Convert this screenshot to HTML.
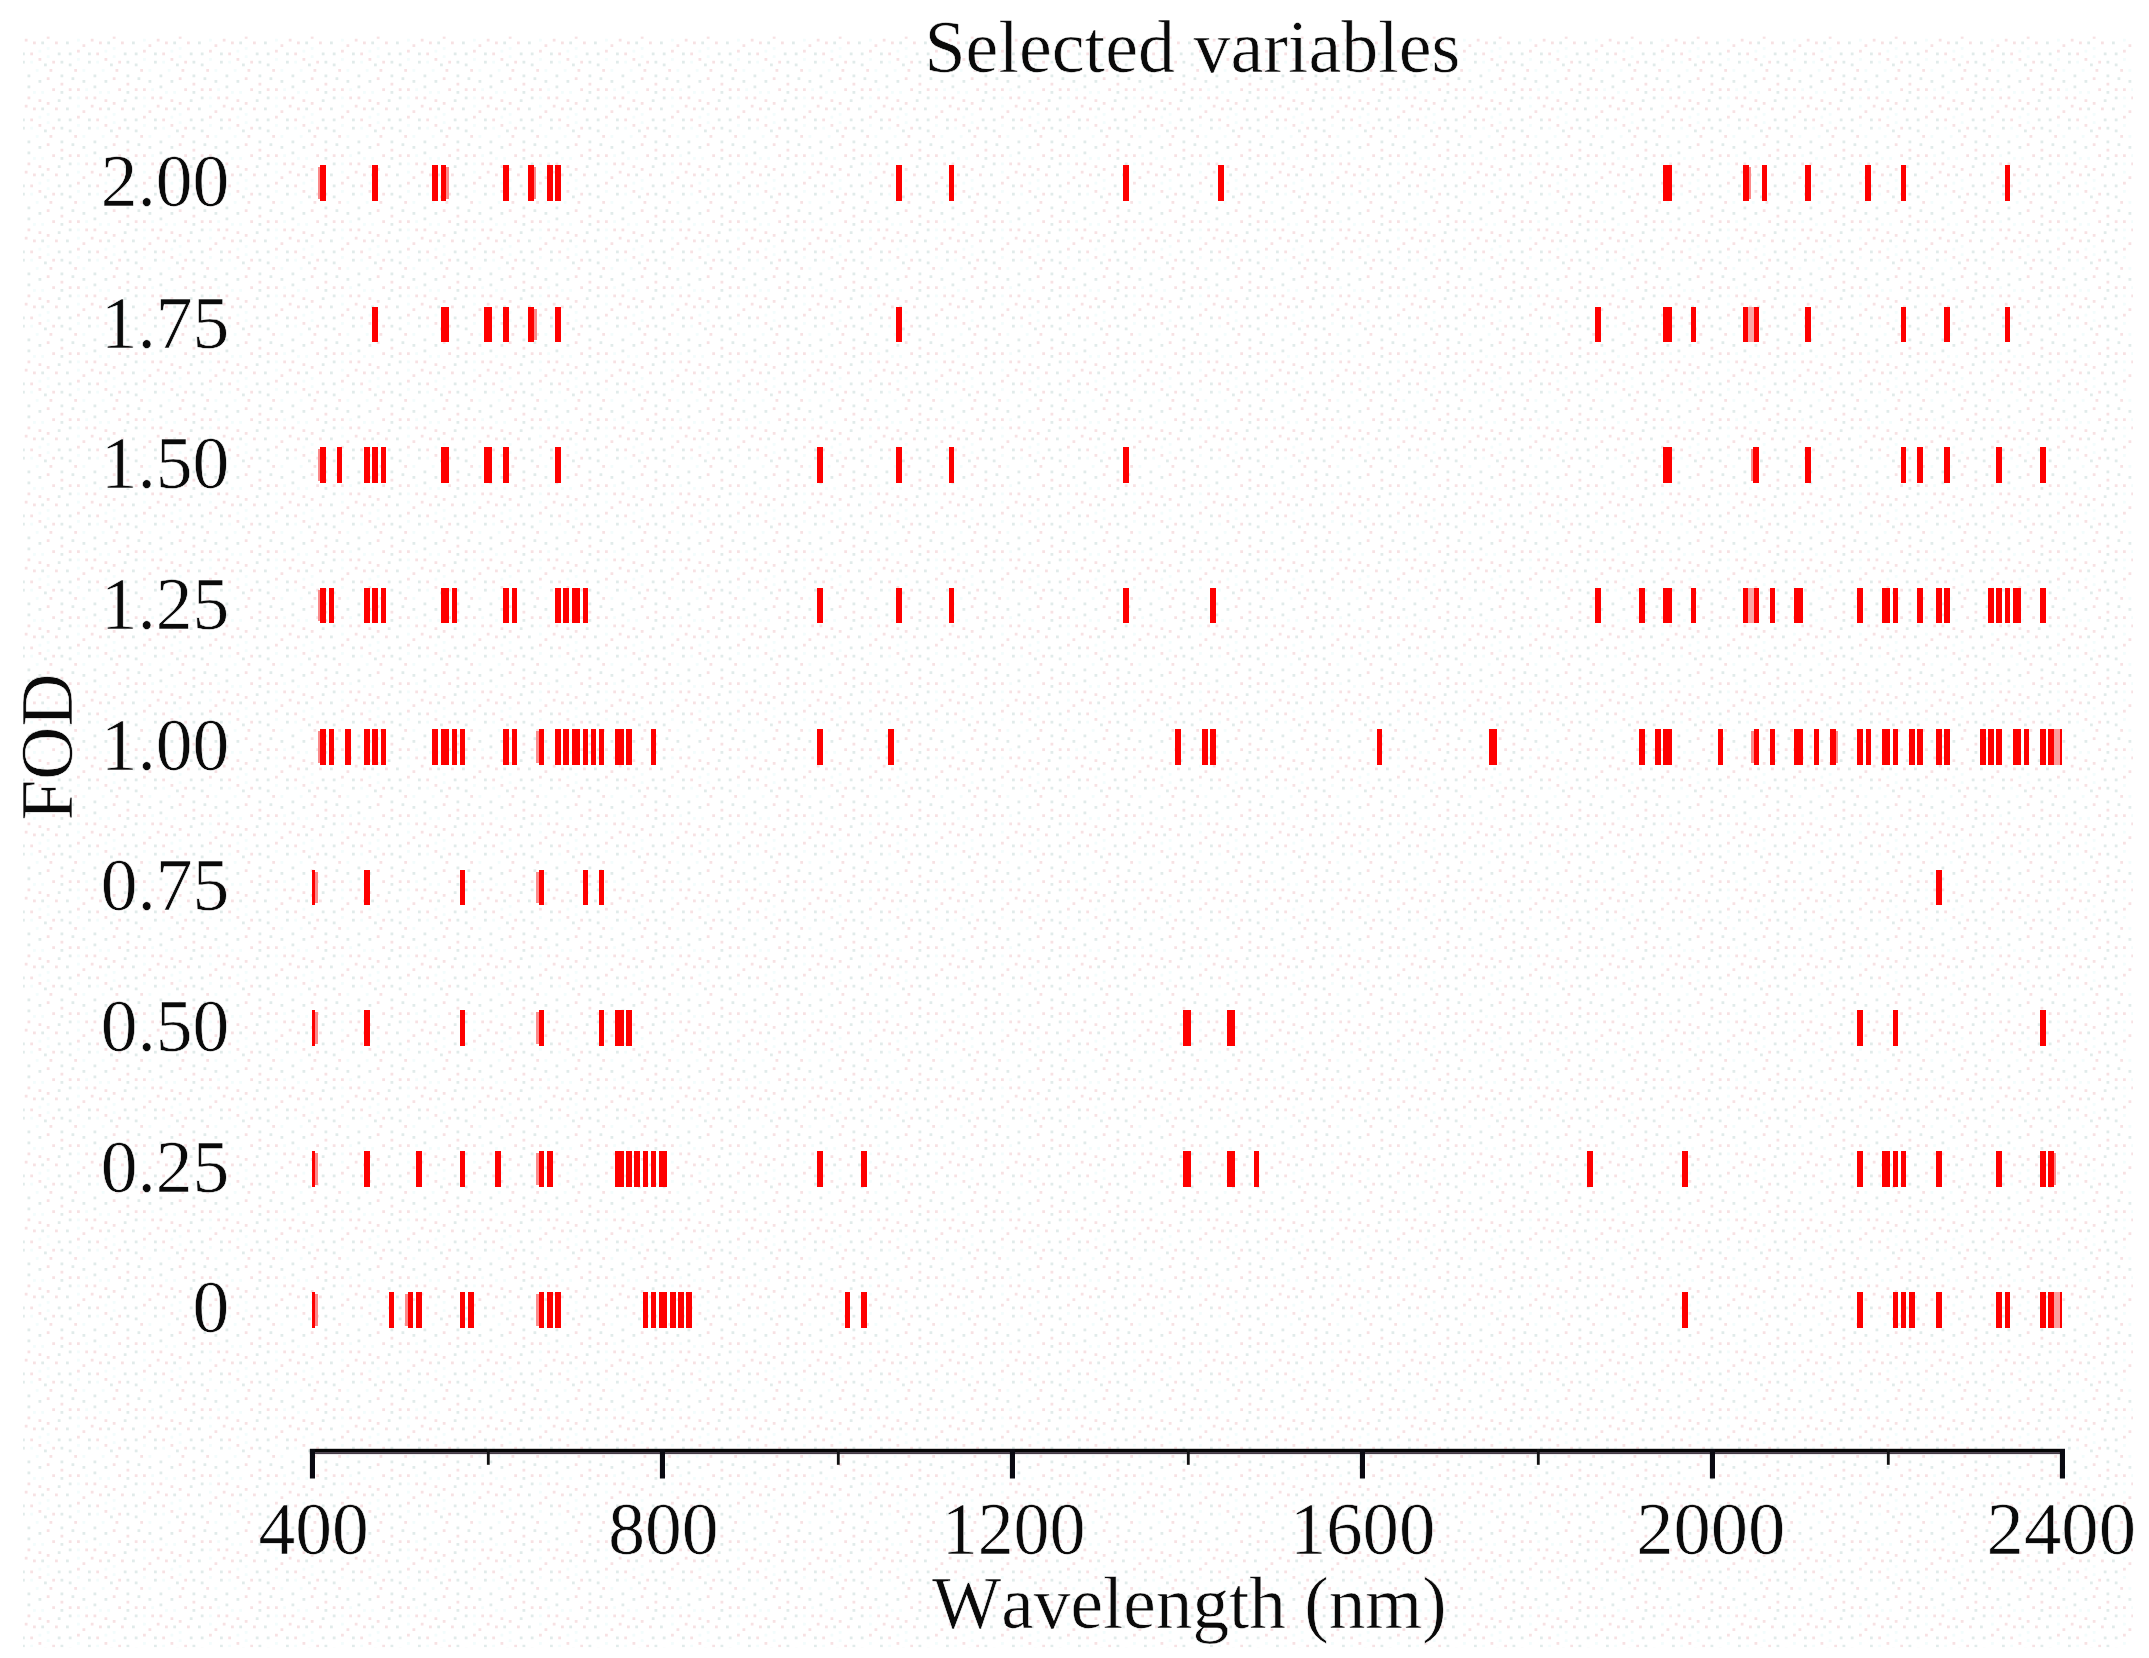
<!DOCTYPE html>
<html lang="en"><head><meta charset="utf-8"><title>Selected variables</title>
<style>
html,body{margin:0;padding:0;background:#fff;}
body{width:2149px;height:1658px;overflow:hidden;}
svg{display:block;}
text{font-family:"Liberation Serif","Times New Roman",serif;font-size:73.5px;fill:#0a0a0a;font-kerning:none;stroke:#fff;stroke-width:0.6px;}
</style></head><body>
<svg width="2149" height="1658" viewBox="0 0 2149 1658">
<defs><pattern id="dz" x="22" y="36" width="66.0" height="66.0" patternUnits="userSpaceOnUse"><rect x="38.50" y="46.75" width="2.8" height="2.8" fill="#f7e1e3"/><rect x="38.50" y="38.50" width="2.8" height="2.8" fill="#e1ebea"/><rect x="16.50" y="13.75" width="2.8" height="2.8" fill="#f3fcfc"/><rect x="55.00" y="52.25" width="2.8" height="2.8" fill="#f7e1e3"/><rect x="38.50" y="24.75" width="2.8" height="2.8" fill="#e1ebea"/><rect x="11.00" y="5.50" width="2.8" height="2.8" fill="#f7e1e3"/><rect x="46.75" y="60.50" width="2.8" height="2.8" fill="#e1ebea"/><rect x="55.00" y="2.75" width="2.8" height="2.8" fill="#f3fcfc"/><rect x="52.25" y="33.00" width="2.8" height="2.8" fill="#f7e1e3"/><rect x="38.50" y="55.00" width="2.8" height="2.8" fill="#e1ebea"/><rect x="63.25" y="52.25" width="2.8" height="2.8" fill="#f3fcfc"/><rect x="55.00" y="13.75" width="2.8" height="2.8" fill="#f7e1e3"/><rect x="44.00" y="5.50" width="2.8" height="2.8" fill="#e1ebea"/><rect x="2.75" y="2.75" width="2.8" height="2.8" fill="#f7e1e3"/><rect x="16.50" y="44.00" width="2.8" height="2.8" fill="#e1ebea"/><rect x="19.25" y="55.00" width="2.8" height="2.8" fill="#f3fcfc"/><rect x="24.75" y="41.25" width="2.8" height="2.8" fill="#f7e1e3"/><rect x="5.50" y="38.50" width="2.8" height="2.8" fill="#e1ebea"/><rect x="55.00" y="22.00" width="2.8" height="2.8" fill="#f3fcfc"/><rect x="5.50" y="60.50" width="2.8" height="2.8" fill="#f7e1e3"/><rect x="22.00" y="27.50" width="2.8" height="2.8" fill="#e1ebea"/><rect x="24.75" y="0.00" width="2.8" height="2.8" fill="#f7e1e3"/><rect x="5.50" y="49.50" width="2.8" height="2.8" fill="#e1ebea"/><rect x="8.25" y="24.75" width="2.8" height="2.8" fill="#f3fcfc"/><rect x="33.00" y="5.50" width="2.8" height="2.8" fill="#f7e1e3"/><rect x="0.00" y="16.50" width="2.8" height="2.8" fill="#e1ebea"/><rect x="60.50" y="33.00" width="2.8" height="2.8" fill="#f3fcfc"/><rect x="60.50" y="8.25" width="2.8" height="2.8" fill="#f7e1e3"/><rect x="46.75" y="16.50" width="2.8" height="2.8" fill="#e1ebea"/><rect x="16.50" y="63.25" width="2.8" height="2.8" fill="#f7e1e3"/><rect x="35.75" y="16.50" width="2.8" height="2.8" fill="#e1ebea"/><rect x="13.75" y="33.00" width="2.8" height="2.8" fill="#f3fcfc"/><rect x="30.25" y="52.25" width="2.8" height="2.8" fill="#f7e1e3"/><rect x="49.50" y="41.25" width="2.8" height="2.8" fill="#e1ebea"/><rect x="24.75" y="19.25" width="2.8" height="2.8" fill="#f3fcfc"/><rect x="63.25" y="60.50" width="2.8" height="2.8" fill="#f7e1e3"/><rect x="35.75" y="63.25" width="2.8" height="2.8" fill="#e1ebea"/><rect x="27.50" y="33.00" width="2.8" height="2.8" fill="#f7e1e3"/><rect x="0.00" y="24.75" width="2.8" height="2.8" fill="#e1ebea"/><rect x="24.75" y="11.00" width="2.8" height="2.8" fill="#f3fcfc"/><rect x="30.25" y="24.75" width="2.8" height="2.8" fill="#f7e1e3"/><rect x="60.50" y="44.00" width="2.8" height="2.8" fill="#e1ebea"/><rect x="55.00" y="60.50" width="2.8" height="2.8" fill="#f3fcfc"/><rect x="8.25" y="16.50" width="2.8" height="2.8" fill="#f7e1e3"/><rect x="46.75" y="27.50" width="2.8" height="2.8" fill="#e1ebea"/><rect x="46.75" y="52.25" width="2.8" height="2.8" fill="#f7e1e3"/><rect x="19.25" y="5.50" width="2.8" height="2.8" fill="#e1ebea"/><rect x="11.00" y="55.00" width="2.8" height="2.8" fill="#f3fcfc"/><rect x="16.50" y="22.00" width="2.8" height="2.8" fill="#f7e1e3"/></pattern></defs>
<rect x="0" y="0" width="2149" height="1658" fill="#ffffff"/>
<rect x="23" y="36.6" width="2110" height="1610.6" fill="url(#dz)"/>
<g id="bars" shape-rendering="crispEdges">
<g><rect x="317.8" y="166.9" width="2.8" height="31.6" fill="#fb8a8a"/><rect x="320.4" y="164.9" width="5.6" height="35.6" fill="#fe0000"/><rect x="372.4" y="164.9" width="5.6" height="35.6" fill="#fe0000"/><rect x="432.3" y="164.9" width="5.6" height="35.6" fill="#fe0000"/><rect x="446.1" y="166.9" width="2.8" height="31.6" fill="#fb8a8a"/><rect x="440.7" y="164.9" width="5.6" height="35.6" fill="#fe0000"/><rect x="503.3" y="164.9" width="5.6" height="35.6" fill="#fe0000"/><rect x="533.3" y="166.9" width="2.8" height="31.6" fill="#fb8a8a"/><rect x="527.9" y="164.9" width="5.6" height="35.6" fill="#fe0000"/><rect x="547.0" y="164.9" width="5.6" height="35.6" fill="#fe0000"/><rect x="555.4" y="164.9" width="5.6" height="35.6" fill="#fe0000"/><rect x="896.2" y="164.9" width="5.6" height="35.6" fill="#fe0000"/><rect x="948.5" y="164.9" width="5.6" height="35.6" fill="#fe0000"/><rect x="1123.0" y="164.9" width="5.6" height="35.6" fill="#fe0000"/><rect x="1218.2" y="164.9" width="5.6" height="35.6" fill="#fe0000"/><rect x="1663.4" y="164.9" width="8.4" height="35.6" fill="#fe0000"/><rect x="1748.3" y="166.9" width="2.8" height="31.6" fill="#fb8a8a"/><rect x="1742.9" y="164.9" width="5.6" height="35.6" fill="#fe0000"/><rect x="1761.5" y="164.9" width="5.6" height="35.6" fill="#fe0000"/><rect x="1805.2" y="164.9" width="5.6" height="35.6" fill="#fe0000"/><rect x="1865.3" y="164.9" width="5.6" height="35.6" fill="#fe0000"/><rect x="1900.7" y="164.9" width="5.6" height="35.6" fill="#fe0000"/><rect x="2004.5" y="164.9" width="5.6" height="35.6" fill="#fe0000"/></g>
<g><rect x="372.4" y="306.6" width="5.6" height="35.6" fill="#fe0000"/><rect x="440.6" y="306.6" width="8.4" height="35.6" fill="#fe0000"/><rect x="484.0" y="306.6" width="8.4" height="35.6" fill="#fe0000"/><rect x="503.3" y="306.6" width="5.6" height="35.6" fill="#fe0000"/><rect x="533.8" y="308.6" width="2.8" height="31.6" fill="#fb8a8a"/><rect x="528.4" y="306.6" width="5.6" height="35.6" fill="#fe0000"/><rect x="555.2" y="306.6" width="5.6" height="35.6" fill="#fe0000"/><rect x="896.2" y="306.6" width="5.6" height="35.6" fill="#fe0000"/><rect x="1595.2" y="306.6" width="5.6" height="35.6" fill="#fe0000"/><rect x="1663.4" y="306.6" width="8.4" height="35.6" fill="#fe0000"/><rect x="1690.7" y="306.6" width="5.6" height="35.6" fill="#fe0000"/><rect x="1742.7" y="306.6" width="5.6" height="35.6" fill="#fe0000"/><rect x="1748.1" y="306.6" width="5.6" height="35.6" fill="#fba3a3"/><rect x="1753.5" y="306.6" width="5.6" height="35.6" fill="#fe0000"/><rect x="1805.2" y="306.6" width="5.6" height="35.6" fill="#fe0000"/><rect x="1900.8" y="306.6" width="5.6" height="35.6" fill="#fe0000"/><rect x="1944.4" y="306.6" width="5.6" height="35.6" fill="#fe0000"/><rect x="2004.5" y="306.6" width="5.6" height="35.6" fill="#fe0000"/></g>
<g><rect x="317.8" y="449.0" width="2.8" height="31.6" fill="#fb8a8a"/><rect x="320.4" y="447.0" width="5.6" height="35.6" fill="#fe0000"/><rect x="336.8" y="447.0" width="5.6" height="35.6" fill="#fe0000"/><rect x="364.1" y="447.0" width="5.6" height="35.6" fill="#fe0000"/><rect x="372.4" y="447.0" width="5.6" height="35.6" fill="#fe0000"/><rect x="380.5" y="447.0" width="5.6" height="35.6" fill="#fe0000"/><rect x="440.6" y="447.0" width="8.4" height="35.6" fill="#fe0000"/><rect x="484.0" y="447.0" width="8.4" height="35.6" fill="#fe0000"/><rect x="503.3" y="447.0" width="5.6" height="35.6" fill="#fe0000"/><rect x="555.2" y="447.0" width="5.6" height="35.6" fill="#fe0000"/><rect x="817.1" y="447.0" width="5.6" height="35.6" fill="#fe0000"/><rect x="896.2" y="447.0" width="5.6" height="35.6" fill="#fe0000"/><rect x="948.5" y="447.0" width="5.6" height="35.6" fill="#fe0000"/><rect x="1123.0" y="447.0" width="5.6" height="35.6" fill="#fe0000"/><rect x="1663.4" y="447.0" width="8.4" height="35.6" fill="#fe0000"/><rect x="1750.6" y="449.0" width="2.8" height="31.6" fill="#fb8a8a"/><rect x="1753.2" y="447.0" width="5.6" height="35.6" fill="#fe0000"/><rect x="1805.2" y="447.0" width="5.6" height="35.6" fill="#fe0000"/><rect x="1900.8" y="447.0" width="5.6" height="35.6" fill="#fe0000"/><rect x="1917.3" y="447.0" width="5.6" height="35.6" fill="#fe0000"/><rect x="1944.4" y="447.0" width="5.6" height="35.6" fill="#fe0000"/><rect x="1996.4" y="447.0" width="5.6" height="35.6" fill="#fe0000"/><rect x="2040.2" y="447.0" width="5.6" height="35.6" fill="#fe0000"/></g>
<g><rect x="317.8" y="589.6" width="2.8" height="31.6" fill="#fb8a8a"/><rect x="320.4" y="587.6" width="5.6" height="35.6" fill="#fe0000"/><rect x="328.7" y="587.6" width="5.6" height="35.6" fill="#fe0000"/><rect x="364.1" y="587.6" width="5.6" height="35.6" fill="#fe0000"/><rect x="372.4" y="587.6" width="5.6" height="35.6" fill="#fe0000"/><rect x="380.5" y="587.6" width="5.6" height="35.6" fill="#fe0000"/><rect x="440.6" y="587.6" width="8.4" height="35.6" fill="#fe0000"/><rect x="451.5" y="587.6" width="5.6" height="35.6" fill="#fe0000"/><rect x="503.3" y="587.6" width="5.6" height="35.6" fill="#fe0000"/><rect x="511.6" y="587.6" width="5.6" height="35.6" fill="#fe0000"/><rect x="555.2" y="587.6" width="5.6" height="35.6" fill="#fe0000"/><rect x="563.3" y="587.6" width="5.6" height="35.6" fill="#fe0000"/><rect x="571.7" y="587.6" width="8.4" height="35.6" fill="#fe0000"/><rect x="582.6" y="587.6" width="5.6" height="35.6" fill="#fe0000"/><rect x="817.1" y="587.6" width="5.6" height="35.6" fill="#fe0000"/><rect x="896.2" y="587.6" width="5.6" height="35.6" fill="#fe0000"/><rect x="948.5" y="587.6" width="5.6" height="35.6" fill="#fe0000"/><rect x="1123.0" y="587.6" width="5.6" height="35.6" fill="#fe0000"/><rect x="1210.1" y="587.6" width="5.6" height="35.6" fill="#fe0000"/><rect x="1595.2" y="587.6" width="5.6" height="35.6" fill="#fe0000"/><rect x="1638.9" y="587.6" width="5.6" height="35.6" fill="#fe0000"/><rect x="1663.4" y="587.6" width="8.4" height="35.6" fill="#fe0000"/><rect x="1690.7" y="587.6" width="5.6" height="35.6" fill="#fe0000"/><rect x="1742.7" y="587.6" width="5.6" height="35.6" fill="#fe0000"/><rect x="1748.1" y="587.6" width="5.6" height="35.6" fill="#fba3a3"/><rect x="1753.5" y="587.6" width="5.6" height="35.6" fill="#fe0000"/><rect x="1769.8" y="587.6" width="5.6" height="35.6" fill="#fe0000"/><rect x="1794.4" y="587.6" width="8.4" height="35.6" fill="#fe0000"/><rect x="1857.3" y="587.6" width="5.6" height="35.6" fill="#fe0000"/><rect x="1881.9" y="587.6" width="8.4" height="35.6" fill="#fe0000"/><rect x="1892.7" y="587.6" width="5.6" height="35.6" fill="#fe0000"/><rect x="1917.3" y="587.6" width="5.6" height="35.6" fill="#fe0000"/><rect x="1936.4" y="587.6" width="5.6" height="35.6" fill="#fe0000"/><rect x="1944.4" y="587.6" width="5.6" height="35.6" fill="#fe0000"/><rect x="1988.4" y="587.6" width="5.6" height="35.6" fill="#fe0000"/><rect x="1996.4" y="587.6" width="5.6" height="35.6" fill="#fe0000"/><rect x="2004.7" y="587.6" width="5.6" height="35.6" fill="#fe0000"/><rect x="2012.8" y="587.6" width="8.4" height="35.6" fill="#fe0000"/><rect x="2040.2" y="587.6" width="5.6" height="35.6" fill="#fe0000"/></g>
<g><rect x="317.8" y="731.0" width="2.8" height="31.6" fill="#fb8a8a"/><rect x="320.4" y="729.0" width="5.6" height="35.6" fill="#fe0000"/><rect x="328.7" y="729.0" width="5.6" height="35.6" fill="#fe0000"/><rect x="345.0" y="729.0" width="5.6" height="35.6" fill="#fe0000"/><rect x="364.1" y="729.0" width="5.6" height="35.6" fill="#fe0000"/><rect x="372.4" y="729.0" width="5.6" height="35.6" fill="#fe0000"/><rect x="380.5" y="729.0" width="5.6" height="35.6" fill="#fe0000"/><rect x="432.3" y="729.0" width="5.6" height="35.6" fill="#fe0000"/><rect x="440.6" y="729.0" width="8.4" height="35.6" fill="#fe0000"/><rect x="451.5" y="729.0" width="5.6" height="35.6" fill="#fe0000"/><rect x="459.7" y="729.0" width="5.6" height="35.6" fill="#fe0000"/><rect x="503.3" y="729.0" width="5.6" height="35.6" fill="#fe0000"/><rect x="511.6" y="729.0" width="5.6" height="35.6" fill="#fe0000"/><rect x="536.1" y="731.0" width="2.8" height="31.6" fill="#fb8a8a"/><rect x="538.7" y="729.0" width="5.6" height="35.6" fill="#fe0000"/><rect x="555.2" y="729.0" width="5.6" height="35.6" fill="#fe0000"/><rect x="563.3" y="729.0" width="5.6" height="35.6" fill="#fe0000"/><rect x="571.7" y="729.0" width="8.4" height="35.6" fill="#fe0000"/><rect x="582.6" y="729.0" width="5.6" height="35.6" fill="#fe0000"/><rect x="590.7" y="729.0" width="5.6" height="35.6" fill="#fe0000"/><rect x="598.8" y="729.0" width="5.6" height="35.6" fill="#fe0000"/><rect x="615.2" y="729.0" width="8.4" height="35.6" fill="#fe0000"/><rect x="626.0" y="729.0" width="5.6" height="35.6" fill="#fe0000"/><rect x="650.6" y="729.0" width="5.6" height="35.6" fill="#fe0000"/><rect x="817.1" y="729.0" width="5.6" height="35.6" fill="#fe0000"/><rect x="888.2" y="729.0" width="5.6" height="35.6" fill="#fe0000"/><rect x="1175.1" y="729.0" width="5.6" height="35.6" fill="#fe0000"/><rect x="1202.1" y="729.0" width="5.6" height="35.6" fill="#fe0000"/><rect x="1210.3" y="729.0" width="5.6" height="35.6" fill="#fe0000"/><rect x="1376.6" y="729.0" width="5.6" height="35.6" fill="#fe0000"/><rect x="1488.8" y="729.0" width="8.4" height="35.6" fill="#fe0000"/><rect x="1638.9" y="729.0" width="5.6" height="35.6" fill="#fe0000"/><rect x="1655.2" y="729.0" width="5.6" height="35.6" fill="#fe0000"/><rect x="1663.4" y="729.0" width="8.4" height="35.6" fill="#fe0000"/><rect x="1717.8" y="729.0" width="5.6" height="35.6" fill="#fe0000"/><rect x="1750.9" y="731.0" width="2.8" height="31.6" fill="#fb8a8a"/><rect x="1753.5" y="729.0" width="5.6" height="35.6" fill="#fe0000"/><rect x="1769.8" y="729.0" width="5.6" height="35.6" fill="#fe0000"/><rect x="1794.4" y="729.0" width="8.4" height="35.6" fill="#fe0000"/><rect x="1813.5" y="729.0" width="5.6" height="35.6" fill="#fe0000"/><rect x="1835.5" y="731.0" width="2.8" height="31.6" fill="#fb8a8a"/><rect x="1830.1" y="729.0" width="5.6" height="35.6" fill="#fe0000"/><rect x="1857.3" y="729.0" width="5.6" height="35.6" fill="#fe0000"/><rect x="1865.6" y="729.0" width="5.6" height="35.6" fill="#fe0000"/><rect x="1881.9" y="729.0" width="8.4" height="35.6" fill="#fe0000"/><rect x="1892.7" y="729.0" width="5.6" height="35.6" fill="#fe0000"/><rect x="1909.0" y="729.0" width="5.6" height="35.6" fill="#fe0000"/><rect x="1917.3" y="729.0" width="5.6" height="35.6" fill="#fe0000"/><rect x="1936.4" y="729.0" width="5.6" height="35.6" fill="#fe0000"/><rect x="1944.4" y="729.0" width="5.6" height="35.6" fill="#fe0000"/><rect x="1980.1" y="729.0" width="5.6" height="35.6" fill="#fe0000"/><rect x="1988.4" y="729.0" width="5.6" height="35.6" fill="#fe0000"/><rect x="1996.4" y="729.0" width="5.6" height="35.6" fill="#fe0000"/><rect x="2012.8" y="729.0" width="8.4" height="35.6" fill="#fe0000"/><rect x="2023.6" y="729.0" width="5.6" height="35.6" fill="#fe0000"/><rect x="2040.2" y="729.0" width="5.6" height="35.6" fill="#fe0000"/><rect x="2048.2" y="729.0" width="5.6" height="35.6" fill="#fe0000"/><rect x="2053.8" y="729.0" width="6.4" height="35.6" fill="#fc9c9c"/><rect x="2060.1" y="729.0" width="2.0" height="35.6" fill="#fe0000"/></g>
<g><rect x="312.1" y="869.8" width="3.2" height="35.6" fill="#fe0000"/><rect x="315.2" y="871.8" width="2.6" height="31.6" fill="#fb8a8a"/><rect x="364.1" y="869.8" width="5.6" height="35.6" fill="#fe0000"/><rect x="459.7" y="869.8" width="5.6" height="35.6" fill="#fe0000"/><rect x="536.1" y="871.8" width="2.8" height="31.6" fill="#fb8a8a"/><rect x="538.7" y="869.8" width="5.6" height="35.6" fill="#fe0000"/><rect x="582.6" y="869.8" width="5.6" height="35.6" fill="#fe0000"/><rect x="598.8" y="869.8" width="5.6" height="35.6" fill="#fe0000"/><rect x="1936.4" y="869.8" width="5.6" height="35.6" fill="#fe0000"/></g>
<g><rect x="312.1" y="1010.2" width="3.2" height="35.6" fill="#fe0000"/><rect x="315.2" y="1012.2" width="2.6" height="31.6" fill="#fb8a8a"/><rect x="364.1" y="1010.2" width="5.6" height="35.6" fill="#fe0000"/><rect x="459.7" y="1010.2" width="5.6" height="35.6" fill="#fe0000"/><rect x="536.1" y="1012.2" width="2.8" height="31.6" fill="#fb8a8a"/><rect x="538.7" y="1010.2" width="5.6" height="35.6" fill="#fe0000"/><rect x="598.8" y="1010.2" width="5.6" height="35.6" fill="#fe0000"/><rect x="615.2" y="1010.2" width="8.4" height="35.6" fill="#fe0000"/><rect x="626.0" y="1010.2" width="5.6" height="35.6" fill="#fe0000"/><rect x="1182.8" y="1010.2" width="8.4" height="35.6" fill="#fe0000"/><rect x="1226.6" y="1010.2" width="8.4" height="35.6" fill="#fe0000"/><rect x="1857.3" y="1010.2" width="5.6" height="35.6" fill="#fe0000"/><rect x="1892.7" y="1010.2" width="5.6" height="35.6" fill="#fe0000"/><rect x="2040.2" y="1010.2" width="5.6" height="35.6" fill="#fe0000"/></g>
<g><rect x="312.1" y="1151.0" width="3.2" height="35.6" fill="#fe0000"/><rect x="315.2" y="1153.0" width="2.6" height="31.6" fill="#fb8a8a"/><rect x="364.1" y="1151.0" width="5.6" height="35.6" fill="#fe0000"/><rect x="416.0" y="1151.0" width="5.6" height="35.6" fill="#fe0000"/><rect x="459.7" y="1151.0" width="5.6" height="35.6" fill="#fe0000"/><rect x="495.2" y="1151.0" width="5.6" height="35.6" fill="#fe0000"/><rect x="536.1" y="1153.0" width="2.8" height="31.6" fill="#fb8a8a"/><rect x="538.7" y="1151.0" width="5.6" height="35.6" fill="#fe0000"/><rect x="547.0" y="1151.0" width="5.6" height="35.6" fill="#fe0000"/><rect x="615.2" y="1151.0" width="8.4" height="35.6" fill="#fe0000"/><rect x="626.0" y="1151.0" width="5.6" height="35.6" fill="#fe0000"/><rect x="634.2" y="1151.0" width="5.6" height="35.6" fill="#fe0000"/><rect x="642.5" y="1151.0" width="5.6" height="35.6" fill="#fe0000"/><rect x="650.6" y="1151.0" width="5.6" height="35.6" fill="#fe0000"/><rect x="658.7" y="1151.0" width="8.4" height="35.6" fill="#fe0000"/><rect x="817.1" y="1151.0" width="5.6" height="35.6" fill="#fe0000"/><rect x="861.0" y="1151.0" width="5.6" height="35.6" fill="#fe0000"/><rect x="1182.8" y="1151.0" width="8.4" height="35.6" fill="#fe0000"/><rect x="1226.6" y="1151.0" width="8.4" height="35.6" fill="#fe0000"/><rect x="1253.8" y="1151.0" width="5.6" height="35.6" fill="#fe0000"/><rect x="1586.9" y="1151.0" width="5.6" height="35.6" fill="#fe0000"/><rect x="1682.4" y="1151.0" width="5.6" height="35.6" fill="#fe0000"/><rect x="1857.3" y="1151.0" width="5.6" height="35.6" fill="#fe0000"/><rect x="1881.9" y="1151.0" width="8.4" height="35.6" fill="#fe0000"/><rect x="1892.7" y="1151.0" width="5.6" height="35.6" fill="#fe0000"/><rect x="1900.8" y="1151.0" width="5.6" height="35.6" fill="#fe0000"/><rect x="1936.4" y="1151.0" width="5.6" height="35.6" fill="#fe0000"/><rect x="1996.4" y="1151.0" width="5.6" height="35.6" fill="#fe0000"/><rect x="2040.2" y="1151.0" width="5.6" height="35.6" fill="#fe0000"/><rect x="2053.6" y="1153.0" width="2.8" height="31.6" fill="#fb8a8a"/><rect x="2048.2" y="1151.0" width="5.6" height="35.6" fill="#fe0000"/></g>
<g><rect x="312.1" y="1291.9" width="3.2" height="35.6" fill="#fe0000"/><rect x="315.2" y="1293.9" width="2.6" height="31.6" fill="#fb8a8a"/><rect x="388.7" y="1291.9" width="5.6" height="35.6" fill="#fe0000"/><rect x="405.2" y="1293.9" width="2.8" height="31.6" fill="#fb8a8a"/><rect x="407.8" y="1291.9" width="5.6" height="35.6" fill="#fe0000"/><rect x="416.0" y="1291.9" width="5.6" height="35.6" fill="#fe0000"/><rect x="459.7" y="1291.9" width="5.6" height="35.6" fill="#fe0000"/><rect x="467.9" y="1291.9" width="5.6" height="35.6" fill="#fe0000"/><rect x="536.1" y="1293.9" width="2.8" height="31.6" fill="#fb8a8a"/><rect x="538.7" y="1291.9" width="5.6" height="35.6" fill="#fe0000"/><rect x="547.0" y="1291.9" width="5.6" height="35.6" fill="#fe0000"/><rect x="555.2" y="1291.9" width="5.6" height="35.6" fill="#fe0000"/><rect x="642.5" y="1291.9" width="5.6" height="35.6" fill="#fe0000"/><rect x="650.6" y="1291.9" width="5.6" height="35.6" fill="#fe0000"/><rect x="658.7" y="1291.9" width="8.4" height="35.6" fill="#fe0000"/><rect x="669.9" y="1291.9" width="5.6" height="35.6" fill="#fe0000"/><rect x="677.9" y="1291.9" width="5.6" height="35.6" fill="#fe0000"/><rect x="686.2" y="1291.9" width="5.6" height="35.6" fill="#fe0000"/><rect x="844.5" y="1291.9" width="5.6" height="35.6" fill="#fe0000"/><rect x="861.0" y="1291.9" width="5.6" height="35.6" fill="#fe0000"/><rect x="1682.4" y="1291.9" width="5.6" height="35.6" fill="#fe0000"/><rect x="1857.3" y="1291.9" width="5.6" height="35.6" fill="#fe0000"/><rect x="1892.7" y="1291.9" width="5.6" height="35.6" fill="#fe0000"/><rect x="1900.8" y="1291.9" width="5.6" height="35.6" fill="#fe0000"/><rect x="1909.0" y="1291.9" width="5.6" height="35.6" fill="#fe0000"/><rect x="1936.4" y="1291.9" width="5.6" height="35.6" fill="#fe0000"/><rect x="1996.4" y="1291.9" width="5.6" height="35.6" fill="#fe0000"/><rect x="2004.7" y="1291.9" width="5.6" height="35.6" fill="#fe0000"/><rect x="2040.2" y="1291.9" width="5.6" height="35.6" fill="#fe0000"/><rect x="2048.2" y="1291.9" width="5.6" height="35.6" fill="#fe0000"/><rect x="2053.8" y="1291.9" width="6.4" height="35.6" fill="#fc9c9c"/><rect x="2060.1" y="1291.9" width="2.0" height="35.6" fill="#fe0000"/></g>
</g>
<g id="axis"><rect x="309.9" y="1448.8" width="1755.1" height="3.4" fill="#050505"/><rect x="309.9" y="1452.1" width="1755.1" height="2.0" fill="#453b47"/><rect x="309.9" y="1449.0" width="5.1" height="29.5" fill="#0a0a12"/><rect x="659.9" y="1449.0" width="5.1" height="29.5" fill="#0a0a12"/><rect x="1009.9" y="1449.0" width="5.1" height="29.5" fill="#0a0a12"/><rect x="1359.9" y="1449.0" width="5.1" height="29.5" fill="#0a0a12"/><rect x="1709.9" y="1449.0" width="5.1" height="29.5" fill="#0a0a12"/><rect x="2059.9" y="1449.0" width="5.1" height="29.5" fill="#0a0a12"/><rect x="486.9" y="1449.0" width="2.8" height="15.8" fill="#111"/><rect x="836.9" y="1449.0" width="2.8" height="15.8" fill="#111"/><rect x="1186.9" y="1449.0" width="2.8" height="15.8" fill="#111"/><rect x="1536.9" y="1449.0" width="2.8" height="15.8" fill="#111"/><rect x="1886.9" y="1449.0" width="2.8" height="15.8" fill="#111"/></g>
<g id="labels">
<text x="1192.4" y="72" text-anchor="middle" style="font-size:73.95px">Selected variables</text>
<text x="1189.4" y="1627.7" text-anchor="middle" style="font-size:73.25px">Wavelength (nm)</text>
<text transform="translate(72,747) rotate(-90)" text-anchor="middle">FOD</text>
<text x="313.5" y="1554" text-anchor="middle">400</text><text x="663.4" y="1554" text-anchor="middle">800</text><text x="1013.6" y="1554" text-anchor="middle" textLength="143.8" lengthAdjust="spacingAndGlyphs">1200</text><text x="1362.6" y="1554" text-anchor="middle" textLength="145.3" lengthAdjust="spacingAndGlyphs">1600</text><text x="1710.8" y="1554" text-anchor="middle" textLength="149.1" lengthAdjust="spacingAndGlyphs">2000</text><text x="2061.3" y="1554" text-anchor="middle" textLength="149.4" lengthAdjust="spacingAndGlyphs">2400</text>
<text x="229.3" y="206.0" text-anchor="end">2.00</text><text x="229.3" y="347.6" text-anchor="end">1.75</text><text x="229.3" y="488.1" text-anchor="end">1.50</text><text x="229.3" y="628.8" text-anchor="end">1.25</text><text x="229.3" y="770.1" text-anchor="end">1.00</text><text x="229.3" y="909.8" text-anchor="end">0.75</text><text x="229.3" y="1051.4" text-anchor="end">0.50</text><text x="229.3" y="1192.2" text-anchor="end">0.25</text><text x="229.3" y="1332.2" text-anchor="end">0</text>
</g>
</svg>
</body></html>
